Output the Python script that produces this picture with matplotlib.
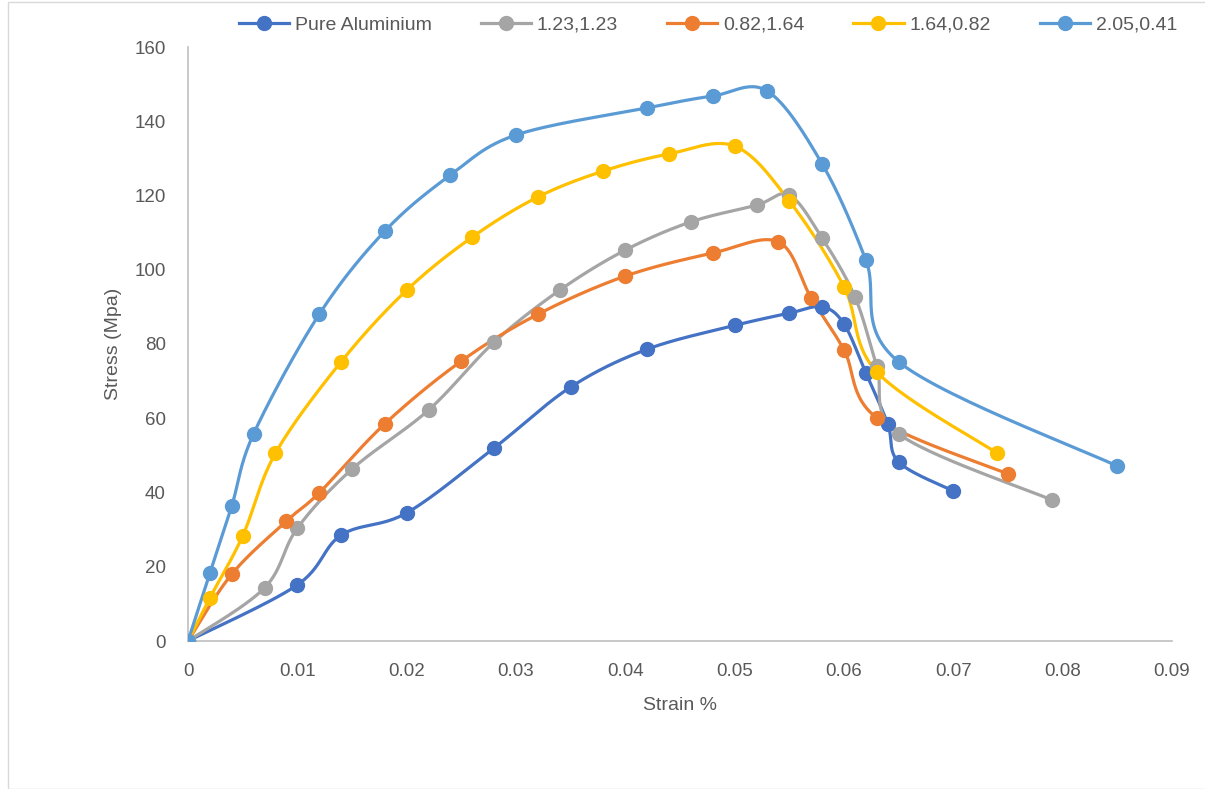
import numpy as np
import matplotlib
matplotlib.use('Agg')
import matplotlib.pyplot as plt
from matplotlib.patches import Rectangle

plt.rcParams['font.family'] = ['Liberation Sans', 'DejaVu Sans']

# data
labels = ['Pure Aluminium', '1.23,1.23', '0.82,1.64', '1.64,0.82', '2.05,0.41']
colors = ['#4472C4', '#A5A5A5', '#ED7D31', '#FFC000', '#5B9BD5']

pure_x = [0, 0.010, 0.014, 0.020, 0.028, 0.035, 0.042, 0.050, 0.055, 0.058, 0.060, 0.062, 0.064, 0.065, 0.070]
pure_y = [0, 15.1, 28.5, 34.5, 52.0, 68.4, 78.6, 85.0, 88.3, 90.0, 85.4, 72.2, 58.5, 48.2, 40.4]

s123_x = [0, 0.007, 0.010, 0.015, 0.022, 0.028, 0.034, 0.040, 0.046, 0.052, 0.055, 0.058, 0.061, 0.063, 0.065, 0.079]
s123_y = [0, 14.3, 30.4, 46.3, 62.2, 80.5, 94.5, 105.3, 112.9, 117.4, 120.1, 108.5, 92.7, 74.0, 55.8, 38.0]

s082_x = [0, 0.004, 0.009, 0.012, 0.018, 0.025, 0.032, 0.040, 0.048, 0.054, 0.057, 0.060, 0.063, 0.075]
s082_y = [0, 18.0, 32.3, 39.9, 58.5, 75.4, 88.0, 98.3, 104.5, 107.5, 92.4, 78.4, 60.1, 45.0]

s164_x = [0, 0.002, 0.005, 0.008, 0.014, 0.020, 0.026, 0.032, 0.038, 0.044, 0.050, 0.055, 0.060, 0.063, 0.074]
s164_y = [0, 11.6, 28.3, 50.6, 75.2, 94.5, 108.8, 119.6, 126.6, 131.2, 133.3, 118.5, 95.4, 72.5, 50.6]

s205_x = [0, 0.002, 0.004, 0.006, 0.012, 0.018, 0.024, 0.030, 0.042, 0.048, 0.053, 0.058, 0.062, 0.065, 0.085]
s205_y = [0, 18.3, 36.4, 55.8, 88.0, 110.4, 125.5, 136.3, 143.6, 146.8, 148.1, 128.5, 102.6, 75.2, 47.1]

series = [(pure_x, pure_y), (s123_x, s123_y), (s082_x, s082_y), (s164_x, s164_y), (s205_x, s205_y)]

XMAX, YMAX = 0.09, 160


def smooth(xs, ys, n=30):
    # Excel-style smoothed line (Catmull-Rom bezier) computed in screen-like units
    px = np.array(xs) / XMAX * 984
    py = np.array(ys) / YMAX * 594
    P = np.column_stack([px, py])
    P = np.vstack([P[0], P, P[-1]])
    out = []
    t = np.linspace(0, 1, n)[:, None]
    for i in range(1, len(P) - 2):
        p0, p1, p2, p3 = P[i - 1], P[i], P[i + 1], P[i + 2]
        c1 = p1 + (p2 - p0) / 6
        c2 = p2 - (p3 - p1) / 6
        seg = (1 - t) ** 3 * p1 + 3 * (1 - t) ** 2 * t * c1 + 3 * (1 - t) * t ** 2 * c2 + t ** 3 * p2
        out.append(seg)
    c = np.vstack(out)
    return c[:, 0] / 984 * XMAX, c[:, 1] / 594 * YMAX


fig = plt.figure(figsize=(12.05, 7.89), dpi=100)
ax = fig.add_axes([188 / 1205, 1 - 641 / 789, 984 / 1205, 594 / 789])

fig.patches.append(Rectangle((8 / 1205, 0), 1.2, 1 - 2 / 789, transform=fig.transFigure,
                             fill=False, edgecolor='#D9D9D9', linewidth=1))

handles = []
for (xs, ys), lab, col in zip(series, labels, colors):
    sx, sy = smooth(xs, ys)
    ax.plot(sx, sy, color=col, lw=2.3, zorder=2)
    ax.plot(xs, ys, 'o', color=col, ms=10, zorder=3)
    h, = ax.plot([], [], color=col, lw=2.3, marker='o', ms=10, label=lab)
    handles.append(h)

ax.set_xlim(0, XMAX)
ax.set_ylim(0, YMAX)
ax.set_xticks(np.arange(0, 0.091, 0.01))
ax.set_xticklabels(['0', '0.01', '0.02', '0.03', '0.04', '0.05', '0.06', '0.07', '0.08', '0.09'])
ax.set_yticks(np.arange(0, 161, 20))
ax.tick_params(length=0, labelsize=13.5, colors='#595959')
ax.tick_params(axis='x', pad=16)
ax.tick_params(axis='y', pad=16)
for s in ['top', 'right']:
    ax.spines[s].set_visible(False)
for s in ['left', 'bottom']:
    ax.spines[s].set_color('#BFBFBF')
    ax.spines[s].set_linewidth(1.2)
ax.set_xlabel('Strain %', fontsize=14, color='#595959', labelpad=12)
ax.set_ylabel('Stress (Mpa)', fontsize=14, color='#595959', labelpad=9)

fig.legend(handles=handles, loc='center', bbox_to_anchor=(708 / 1205, 1 - 25 / 789), ncol=5,
           frameon=False, fontsize=14, labelcolor='#595959', handlelength=2.6,
           handletextpad=0.3, columnspacing=2.5)

fig.savefig('out.png', dpi=100)
